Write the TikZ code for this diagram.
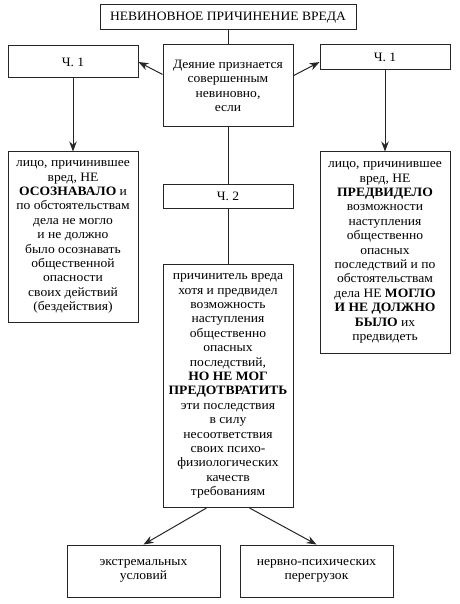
\documentclass[tikz,border=0pt]{standalone}
\usepackage{fontspec}
\setmainfont{Liberation Serif}[FakeStretch=1.06]
\usetikzlibrary{arrows.meta}
\begin{document}
\begin{tikzpicture}[x=1pt,y=-1pt]
\useasboundingbox (0,0) rectangle (459,604);
\tikzstyle{every node}=[draw=black!85,line width=1pt,align=center,inner sep=0pt,font=\fontsize{12.8}{14.4}\selectfont];
\tikzstyle{ln}=[line width=1pt,draw=black!85];
\tikzstyle{arr}=[ln,-{Stealth[length=10pt,width=7.5pt]}];
\node (top)[minimum width=256,minimum height=25] at (228,17.5) {НЕВИНОВНОЕ ПРИЧИНЕНИЕ ВРЕДА};
\node (deed)[minimum width=130,minimum height=82] at (228,86) {Деяние признается\\совершенным\\невиновно,\\если};
\node (l1)[minimum width=130,minimum height=32] at (73,62) {Ч. 1};
\node (r1)[minimum width=130,minimum height=25] at (385,57.5) {Ч. 1};
\node (ch2)[minimum width=130,minimum height=24] at (228,196.5) {Ч. 2};
\node (lb)[minimum width=130,minimum height=170] at (73,237) {лицо, причинившее\\вред, НЕ\\\textbf{ОСОЗНАВАЛО} и\\по обстоятельствам\\дела не могло\\и не должно\\было осознавать\\общественной\\опасности\\своих действий\\(бездействия)};
\node (rb)[minimum width=130,minimum height=201] at (385,252.5) {лицо, причинившее\\вред, НЕ\\\textbf{ПРЕДВИДЕЛО}\\возможности\\наступления\\общественно\\опасных\\последствий и по\\обстоятельствам\\дела НЕ \textbf{МОГЛО}\\\textbf{И НЕ ДОЛЖНО}\\\textbf{БЫЛО} их\\предвидеть};
\node (mb)[minimum width=130,minimum height=243] at (228,386) {причинитель вреда\\хотя и предвидел\\возможность\\наступления\\общественно\\опасных\\последствий,\\\textbf{НО НЕ МОГ}\\\textbf{ПРЕДОТВРАТИТЬ}\\эти последствия\\в силу\\несоответствия\\своих психо-\\физиологических\\качеств\\требованиям};
\node (b1)[minimum width=153,minimum height=52] at (143.5,571) {экстремальных\\условий};
\node (b2)[minimum width=153,minimum height=52] at (316.5,571) {нервно-психических\\перегрузок};
\draw[ln](top)--(deed)
(deed)--(ch2)
(ch2)--(mb);
\draw[arr](deed.170)--(l1.east);
\draw[arr](deed.9)--(r1.184);
\draw[arr](l1)--(lb);
\draw[arr](r1)--(rb);
\draw[arr](mb.260)--(b1.north);
\draw[arr](mb.280)--(b2.north);
\end{tikzpicture}
\end{document}
